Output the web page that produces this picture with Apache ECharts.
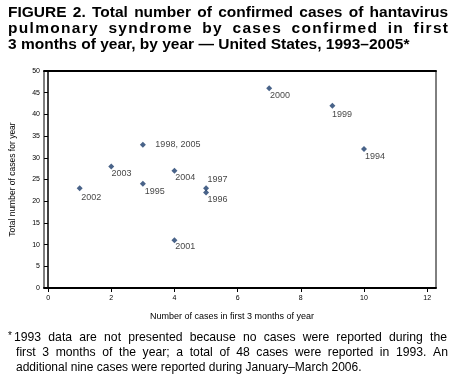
<!DOCTYPE html>
<html>
<head>
<meta charset="utf-8">
<script src="https://cdn.jsdelivr.net/npm/echarts@6/dist/echarts.min.js"></script>
<style>
  html, body { margin: 0; padding: 0; background: #fff; }
  #chart { width: 454px; height: 384px; }
</style>
</head>
<body>
<div id="chart"></div>
<script>
// ---- Data ----
const yearLabels = ['2002', '2003', '1998, 2005', '1995', '2004', '2001', '1997', '1996', '2000', '1999', '1994'];
const casesFirst3Months = [1, 2, 3, 3, 4, 4, 5, 5, 7, 9, 10];
const totalCases = [23, 28, 33, 24, 27, 11, 23, 22, 46, 42, 32];
const xTicks = [0, 2, 4, 6, 8, 10, 12];
const yTicks = [0, 5, 10, 15, 20, 25, 30, 35, 40, 45, 50];

const titleLines = [
  'FIGURE 2. Total number of confirmed cases of hantavirus',
  'pulmonary syndrome by cases confirmed in first',
  '3 months of year, by year \u2014 United States, 1993\u20132005*'
];
const footLines = [
  '1993 data are not presented because no cases were reported during the',
  'first 3 months of the year; a total of 48 cases were reported in 1993. An',
  'additional nine cases were reported during January\u2013March 2006.'
];

// ---- Label placement (style) ----
const labelOffsets = {
  '2002': [-1.5, 9], '2003': [-2.8, 6.7], '1998, 2005': [9.5, -0.5], '1995': [-1.2, 7.3],
  '2004': [-2.2, 7], '2001': [-2.2, 6], '1997': [-1.5, -8.4], '1996': [-1.5, 7],
  '2000': [-2.2, 6.7], '1999': [-3.5, 9], '1994': [-2.1, 7.4]
};

const FONT = 'Liberation Sans, Arial, Helvetica, sans-serif';
const measureCtx = document.createElement('canvas').getContext('2d');
function measure(text, size, weight) {
  measureCtx.font = (weight || 'normal') + ' ' + size + 'px ' + FONT;
  return measureCtx.measureText(text).width;
}
function textEl(t, x, y, size, weight) {
  return { type: 'text', x: x, y: y, style: { text: t, fontSize: size, fontWeight: weight, fontFamily: FONT, fill: '#000', verticalAlign: 'middle', align: 'left' } };
}
// mode: 'none' | 'words' | 'chars'
function lineElems(text, x0, x1, y, size, weight, mode) {
  if (mode === 'none') return [textEl(text, x0, y, size, weight)];
  const parts = mode === 'chars' ? text.split('') : text.split(' ');
  const widths = parts.map(w => measure(w, size, weight));
  const total = widths.reduce((a, b) => a + b, 0);
  // weights for extra spacing after each part (spaces get more in char mode)
  const wts = parts.map((p, i) => i === parts.length - 1 ? 0 : (mode === 'chars' && p === ' ' ? 4 : 1));
  const wsum = wts.reduce((a, b) => a + b, 0);
  const unit = (x1 - x0 - total) / wsum;
  let x = x0;
  const out = [];
  parts.forEach((w, i) => {
    if (w !== ' ') out.push(textEl(w, x, y, size, weight));
    x += widths[i] + unit * wts[i];
  });
  return out;
}

const TITLE_SIZE = 15.5;
const graphics = [];
graphics.push(...lineElems(titleLines[0], 8, 448, 13, TITLE_SIZE, 'bold', 'words'));
graphics.push(...lineElems(titleLines[1], 8, 448, 29, TITLE_SIZE, 'bold', 'chars'));
graphics.push(...lineElems(titleLines[2], 8, 448, 45, TITLE_SIZE, 'bold', 'none'));
graphics.push(textEl('*', 8, 336, 10, 'normal'));
graphics.push(...lineElems(footLines[0], 14, 447, 338, 12.2, 'normal', 'words'));
graphics.push(...lineElems(footLines[1], 16, 448, 353, 12.2, 'normal', 'words'));
graphics.push(...lineElems(footLines[2], 16, 448, 368, 12, 'normal', 'none'));

const points = casesFirst3Months.map((x, i) => ({
  value: [x, totalCases[i]],
  name: yearLabels[i],
  label: { offset: labelOffsets[yearLabels[i]] }
}));

const chart = echarts.init(document.getElementById('chart'), null, { renderer: 'canvas' });
chart.setOption({
  animation: false,
  backgroundColor: '#fff',
  grid: { left: 44, right: 18, top: 71, bottom: 96, show: true, borderColor: '#000', borderWidth: 1, containLabel: false },
  xAxis: [{
    type: 'value', min: -0.13, max: 12.28,
    axisLine: { show: true, lineStyle: { color: '#000', width: 2 } },
    axisTick: { show: true, customValues: xTicks, length: 4, lineStyle: { color: '#000', width: 1 } },
    axisLabel: { customValues: xTicks, fontSize: 7, fontFamily: FONT, color: '#000', margin: 7 },
    splitLine: { show: false },
    name: 'Number of cases in first 3 months of year', nameLocation: 'middle', nameGap: 24,
    nameTextStyle: { fontSize: 9, fontFamily: FONT, color: '#000', padding: [0, 16, 0, 0] }
  }, {
    type: 'value', position: 'top', min: -0.13, max: 12.28,
    axisLine: { show: true, lineStyle: { color: '#000', width: 2 } },
    axisTick: { show: false }, axisLabel: { show: false }, splitLine: { show: false }
  }],
  yAxis: {
    type: 'value', min: 0, max: 50, interval: 5,
    axisLine: { show: true, lineStyle: { color: '#000', width: 1.5 } },
    axisTick: { show: true, length: 4, lineStyle: { color: '#000' } },
    axisLabel: { fontSize: 7, fontFamily: FONT, color: '#000', margin: 4 },
    splitLine: { show: false },
    name: 'Total number of cases for year', nameLocation: 'middle', nameGap: 27,
    nameTextStyle: { fontSize: 8.5, fontFamily: FONT, color: '#000' }
  },
  series: [{
    type: 'scatter',
    xAxisIndex: 0,
    symbol: 'diamond', symbolSize: 6,
    itemStyle: { color: '#1b3c6b' },
    label: {
      show: true, position: 'right', distance: 0,
      formatter: p => p.name,
      fontSize: 9, fontFamily: FONT, color: '#111'
    },
    data: points
  }],
  graphic: graphics
});
</script>
</body>
</html>
